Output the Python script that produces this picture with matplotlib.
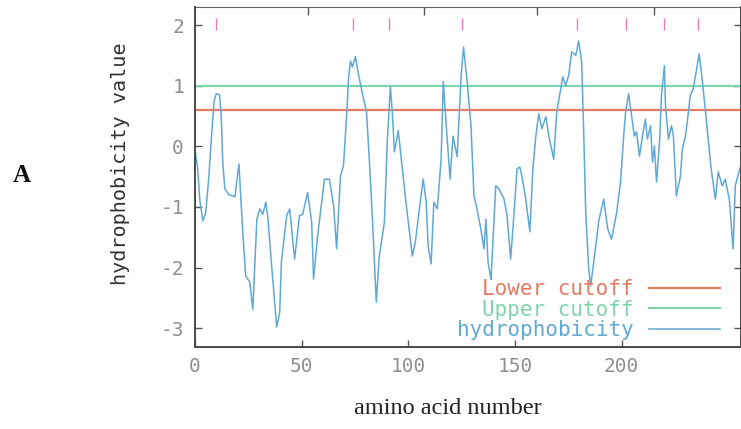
import matplotlib

matplotlib.use("Agg")
import matplotlib.pyplot as plt

# hydrophobicity profile (amino acid number, value)
residue = [
    0, 1.2, 2.3, 3.7, 5, 6.5, 7.8, 9, 10, 11.5, 12.3, 13, 14, 16, 18.7, 20.6,
    22.5, 23.8, 25.7, 27.1, 29, 30.4, 31.8, 33.2, 34.1, 36, 38.3, 39.7, 40.5,
    43, 44.4, 46.7, 49, 50.5, 52.8, 54.7, 55.6, 57.5, 60.7, 63, 65, 66.4, 68.2,
    69.6, 71, 72, 72.9, 73.8, 75.2, 76.6, 78.5, 80.4, 81.8, 83.2, 85, 86.4,
    88.8, 90.2, 91.6, 92.5, 93.5, 95.3, 97.2, 99, 100, 101.9, 103.3, 105, 107,
    108.4, 109.3, 110.7, 112, 113.6, 115.4, 116.4, 117.8, 119.6, 121, 122.9,
    124.8, 125.9, 127.6, 129.4, 130.8, 132.2, 134, 135.5, 136.4, 137.4, 138.8,
    141, 142.5, 144.9, 146.3, 148, 149.5, 151, 152.3, 153.3, 155.1, 157, 158.4,
    159.8, 161.2, 162.6, 164.5, 166, 168.2, 169.6, 171.5, 172.4, 173.8, 175.2,
    176.6, 178.5, 179.9, 181.3, 182.2, 183.2, 184.6, 185.5, 187.9, 189.3,
    191.6, 193.5, 195.3, 197.7, 199.5, 201, 201.9, 203.3, 204.7, 206, 207,
    208.4, 209.8, 211.2, 212.1, 213.6, 214.5, 215.4, 216.4, 217.8, 218.7,
    220.1, 220.6, 222, 223.4, 224.3, 225.7, 227.6, 228.5, 229.9, 230.8, 232.2,
    233.6, 235, 236.4, 237.9, 239.7, 242, 244, 245.3, 247.2, 248.6, 250.5,
    252.3, 253.3, 256,
]
hydro = [
    -0.05, -0.35, -0.9, -1.23, -1.1, -0.5, 0.2, 0.75, 0.87, 0.85, 0.5, -0.26,
    -0.7, -0.8, -0.83, -0.29, -1.48, -2.14, -2.24, -2.69, -1.2, -1.03, -1.12,
    -0.92, -1.15, -2.0, -2.98, -2.74, -1.91, -1.14, -1.03, -1.86, -1.14, -1.12,
    -0.76, -1.25, -2.19, -1.48, -0.54, -0.54, -0.98, -1.69, -0.49, -0.32, 0.45,
    1.12, 1.41, 1.31, 1.48, 1.2, 0.87, 0.57, -0.26, -1.2, -2.57, -1.81, -1.25,
    0.12, 0.98, 0.57, -0.09, 0.26, -0.37, -0.95, -1.25, -1.81, -1.58, -1.09,
    -0.54, -0.92, -1.64, -1.94, -0.92, -1.03, -0.21, 1.07, 0.34, -0.54, 0.17,
    -0.17, 1.17, 1.64, 1.07, 0.34, -0.82, -1.03, -1.36, -1.69, -1.2, -1.91,
    -2.2, -0.65, -0.7, -0.87, -1.14, -1.86, -1.14, -0.37, -0.34, -0.5, -0.87,
    -1.41, -0.37, 0.17, 0.54, 0.29, 0.49, 0.15, -0.21, 0.57, 0.95, 1.15, 1.0,
    1.17, 1.56, 1.5, 1.74, 1.39, 0.29, -1.09, -2.02, -2.3, -1.64, -1.23, -0.87,
    -1.36, -1.53, -1.09, -0.59, 0.17, 0.57, 0.87, 0.5, 0.17, 0.24, -0.16, 0.17,
    0.45, 0.12, 0.34, -0.26, 0.01, -0.59, 0.07, 0.84, 1.33, 0.67, 0.12, 0.34,
    0.17, -0.82, -0.49, -0.04, 0.16, 0.4, 0.84, 0.95, 1.23, 1.53, 1.07, 0.45,
    -0.37, -0.87, -0.42, -0.65, -0.54, -0.87, -1.69, -0.65, -0.3,
]

lower_cutoff = 0.6
upper_cutoff = 1.0
peak_marks = [10, 74, 91, 125, 179, 202, 220, 236]

x_ticks = [0, 50, 100, 150, 200]
y_ticks = [-3, -2, -1, 0, 1, 2]
top_ticks = [53, 107.5, 160.5, 215]

RED = "#e57a63"
GREEN = "#80d4ad"
BLUE = "#5fa9d4"
PINK = "#e878b0"
GREY = "#8f8f8f"

plt.rcParams["axes.unicode_minus"] = False
mono = "DejaVu Sans Mono"

fig = plt.figure(figsize=(7.41, 4.29), dpi=100)
ax = fig.add_axes([195 / 741, 82 / 429, 546 / 741, 340 / 429])

ax.axhline(lower_cutoff, color=RED, lw=1.6, label="Lower cutoff")
ax.axhline(upper_cutoff, color=GREEN, lw=1.6, label="Upper cutoff")
ax.plot(residue, hydro, color=BLUE, lw=1.1, label="hydrophobicity")
ax.vlines(peak_marks, 1.92, 2.12, color=PINK, lw=1.0)

ax.set_xlim(0, 256)
ax.set_ylim(-3.31, 2.30)
ax.set_xticks(x_ticks)
ax.set_yticks(y_ticks)
ax.tick_params(direction="in", length=5, width=1, colors="#555",
               labelcolor=GREY, labelsize=14, right=True, pad=8)
for lab in ax.get_xticklabels() + ax.get_yticklabels():
    lab.set_family(mono)
ax.tick_params(axis="x", pad=7)

top = ax.secondary_xaxis("top")
top.set_xticks(top_ticks)
top.set_xticklabels([])
top.tick_params(direction="in", length=6, width=1, colors="#555")
top.spines["top"].set_color("#666")

for side in ["left", "bottom", "right"]:
    ax.spines[side].set_color("#4a4a4a")
    ax.spines[side].set_linewidth(1.4)
ax.spines["top"].set_visible(False)

ax.set_ylabel("hydrophobicity value", family=mono, fontsize=14.5, color="#333")
ax.yaxis.set_label_coords(-0.119, 0.54)

ax.legend(loc="lower right", bbox_to_anchor=(0.9615, 0.02), frameon=False,
          markerfirst=False, prop={"family": mono, "size": 15},
          labelcolor="linecolor", handlelength=3.4, handletextpad=0.75,
          labelspacing=0.03, borderpad=0, borderaxespad=0)

fig.text(448 / 741, 1 - 408 / 429, "amino acid number", family="Liberation Serif",
         fontsize=17.5, ha="center", va="center", color="#222")
fig.text(22 / 741, 1 - 175 / 429, "A", family="Liberation Serif",
         fontsize=18, fontweight="bold", ha="center", va="center", color="#111")

fig.savefig("out.png", dpi=100)
